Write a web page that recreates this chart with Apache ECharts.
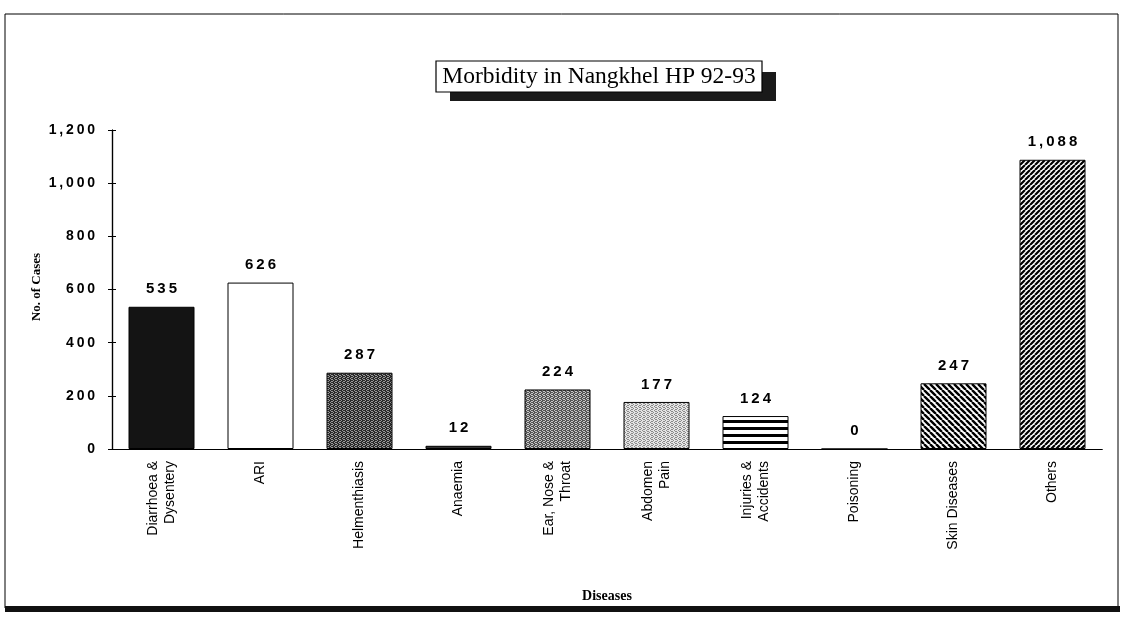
<!DOCTYPE html>
<html>
<head>
<meta charset="utf-8">
<script src="https://cdn.jsdelivr.net/npm/echarts@6/dist/echarts.min.js"></script>
<style>
  html, body { margin: 0; padding: 0; background: #fff; }
  #chart { width: 1125px; height: 621px; }
</style>
</head>
<body>
<div id="chart"></div>
<script>
const categories = ['Diarrhoea &\nDysentery', 'ARI', 'Helmenthiasis', 'Anaemia', 'Ear, Nose &\nThroat',
  'Abdomen\nPain', 'Injuries &\nAccidents', 'Poisoning', 'Skin Diseases', 'Others']
const cases = [535, 626, 287, 12, 224, 177, 124, 0, 247, 1088]
const yTicks = [0, 200, 400, 600, 800, 1000, 1200]

// spread digits a little, the scanned labels are wide
const spaced = (v) => v.toLocaleString('en-US').split('').join('\u2009')

// fill patterns, one per bar
function makePattern(size, draw) {
  const c = document.createElement('canvas')
  c.width = size; c.height = size
  const ctx = c.getContext('2d')
  draw(ctx, size)
  return { image: c, repeat: 'repeat' }
}
function dither(dark, light, ratio) {
  return makePattern(4, (ctx) => {
    const cells = [1, 0, 1, 1, 0, 1, 1, 0, 1, 1, 0, 1, 0, 1, 1, 0]
    for (let i = 0; i < 16; i++) {
      ctx.fillStyle = (cells[i] && ratio > 0.5) || (!cells[i] && ratio <= 0.5) ? dark : light
      ctx.fillRect(i % 4, Math.floor(i / 4), 1, 1)
    }
  })
}
const stripesH = makePattern(7, (ctx, s) => {
  ctx.fillStyle = '#fff'; ctx.fillRect(0, 0, s, s)
  ctx.fillStyle = '#000'; ctx.fillRect(0, 0, s, 3)
})
function diag(size, width, back) {
  return makePattern(size, (ctx, s) => {
    ctx.fillStyle = '#fff'; ctx.fillRect(0, 0, s, s)
    ctx.strokeStyle = '#000'; ctx.lineWidth = width
    ctx.beginPath()
    for (let k = -1; k <= 1; k++) {
      if (back) { ctx.moveTo(k * s, 0); ctx.lineTo(k * s + s, s) }
      else { ctx.moveTo(k * s, s); ctx.lineTo(k * s + s, 0) }
    }
    ctx.stroke()
  })
}
const fills = [
  '#141414',
  '#ffffff',
  dither('#2a2a2a', '#9a9a9a', 0.7),
  '#333333',
  dither('#555555', '#c8c8c8', 0.55),
  dither('#8a8a8a', '#e4e4e4', 0.4),
  stripesH,
  '#000000',
  diag(6, 2.4, true),
  diag(5, 2.2, false)
]

const axisBase = {
  axisLine: { lineStyle: { color: '#000', width: 1.2 } },
  axisTick: { length: 4, lineStyle: { color: '#000' } },
  splitLine: { show: false }
}

const chart = echarts.init(document.getElementById('chart'))
chart.setOption({
  animation: false,
  backgroundColor: '#fff',
  grid: { left: 112, right: 23, top: 130, bottom: 172 },
  graphic: [
    { type: 'rect', shape: { x: 5, y: 14, width: 1113, height: 594 }, style: { fill: 'none', stroke: '#000', lineWidth: 1 } },
    { type: 'rect', shape: { x: 5, y: 606, width: 1115, height: 6 }, style: { fill: '#111' } },
    { type: 'rect', shape: { x: 450, y: 72, width: 326, height: 29 }, style: { fill: '#1a1a1a' } },
    { type: 'rect', shape: { x: 436, y: 61, width: 326, height: 31 }, style: { fill: '#fff', stroke: '#000', lineWidth: 1.2 } },
    { type: 'text', x: 599, y: 77, style: { text: 'Morbidity in Nangkhel HP 92-93', font: '23.5px "Liberation Serif"', fill: '#000', align: 'center', verticalAlign: 'middle' } },
    // y axis title, placed by hand so it sits close to the tick labels
    { type: 'text', x: 37, y: 287, rotation: Math.PI / 2, style: { text: 'No. of Cases', font: 'bold 13px "Liberation Serif"', fill: '#000', align: 'center', verticalAlign: 'middle' } }
  ],
  xAxis: [{
    ...axisBase,
    type: 'category',
    data: categories,
    name: 'Diseases',
    nameLocation: 'middle',
    nameGap: 140,
    nameTextStyle: { fontFamily: 'Liberation Serif', fontWeight: 'bold', fontSize: 14, color: '#000' },
    axisLabel: { rotate: 90, interval: 0, margin: 12, fontFamily: 'Liberation Sans', fontSize: 14, lineHeight: 17, color: '#000' }
  }, {
    // second copy only for the tick halves inside the plot
    ...axisBase,
    type: 'category',
    data: categories,
    position: 'bottom',
    axisTick: { inside: true, length: 4, lineStyle: { color: '#000' } },
    axisLabel: { show: false }
  }],
  yAxis: [{
    ...axisBase,
    type: 'value',
    min: 0,
    max: 1200,
    interval: 200,
    axisLine: { show: true, lineStyle: { color: '#000', width: 1.2 } },
    axisTick: { show: true, length: 4, lineStyle: { color: '#000' } },
    axisLabel: {
      margin: 17, fontFamily: 'Liberation Sans', fontWeight: 'bold', fontSize: 14, color: '#000',
      formatter: (v) => yTicks.includes(v) ? spaced(v) : ''
    }
  }, {
    ...axisBase,
    type: 'value',
    min: 0,
    max: 1200,
    interval: 200,
    position: 'left',
    axisLine: { show: true, lineStyle: { color: '#000', width: 1.2 } },
    axisTick: { show: true, inside: true, length: 4, lineStyle: { color: '#000' } },
    axisLabel: { show: false }
  }],
  series: [{
    type: 'bar',
    barWidth: 66,
    data: cases.map((v, i) => ({ value: v, itemStyle: { color: fills[i] } })),
    itemStyle: { borderColor: '#000', borderWidth: 1 },
    label: {
      show: true, position: 'top', distance: 10,
      fontFamily: 'Liberation Sans', fontWeight: 'bold', fontSize: 15, color: '#000',
      formatter: (p) => spaced(p.value)
    }
  }]
})
</script>
</body>
</html>
